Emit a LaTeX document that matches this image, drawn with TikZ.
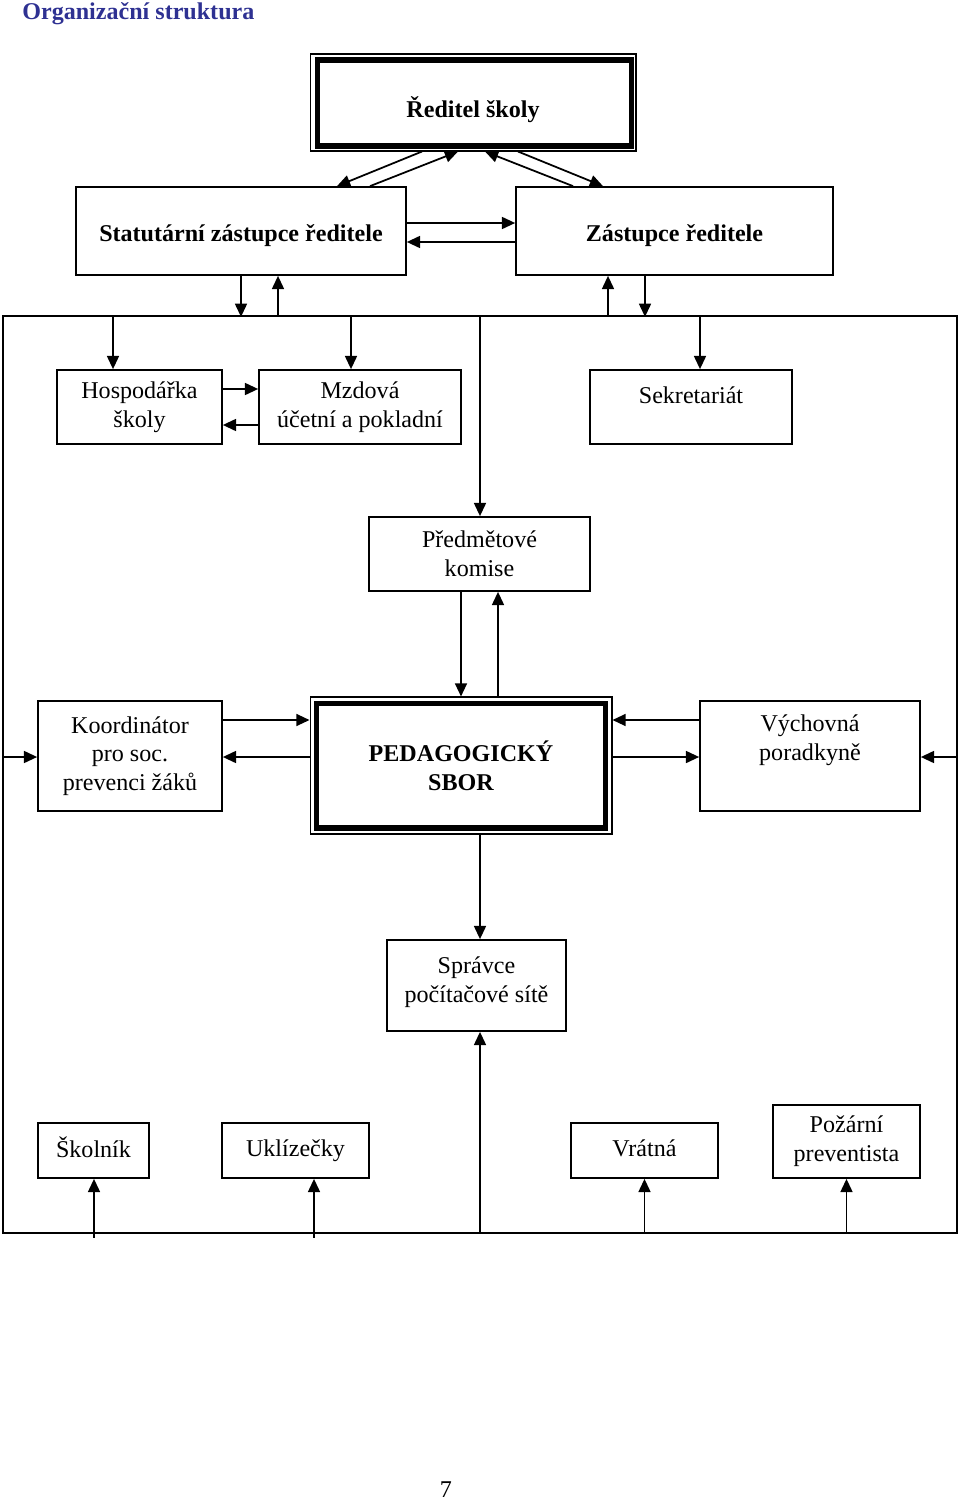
\documentclass[tikz,border=0pt]{standalone}
\usepackage{fontspec}
\setmainfont{Liberation Serif}
\usetikzlibrary{arrows.meta,calc}

\definecolor{nadpisbarva}{RGB}{46,49,146}

\begin{document}
\begin{tikzpicture}[x=0.02cm,y=-0.02cm,
      box/.style={rectangle,draw=black,line width=1pt,align=center,inner sep=0pt,
        font=\fontsize{13.7}{16.4}\selectfont},
      hlavni/.style={box,line width=0.6pt,font=\fontsize{13.7}{16.4}\selectfont\bfseries},
      sip/.style={-{Triangle[length=7.5pt,width=6.8pt]},line width=1pt}]
\useasboundingbox (0,0) rectangle (960,1501);
\node (nadpis) [anchor=base west,inner sep=0pt,text=nadpisbarva,
  font=\fontsize{13.7}{16.4}\selectfont\bfseries] at (22,19) {Organizační struktura};

\node (R) [hlavni,text height=1.96em,minimum width=6.52cm,minimum height=1.94cm] at (473,102.5) {Ředitel školy};
\draw[line width=3.4pt] ($(R.north west)+(8,7)$) rectangle ($(R.south east)+(-5,-5.5)$);
\node (S) [box,font=\fontsize{13.7}{16.4}\selectfont\bfseries,text height=1.53em,
  minimum width=6.6cm,minimum height=1.76cm] at (241,231) {Statutární zástupce ředitele};
\node (Z) [box,font=\fontsize{13.7}{16.4}\selectfont\bfseries,text height=1.53em,
  minimum width=6.34cm,minimum height=1.76cm] at (674.5,231) {Zástupce ředitele};

\draw[line width=1pt] (3,316) rectangle (957,1233);

\node (H) [box,minimum width=3.3cm,minimum height=1.48cm] at (139.5,407) {Hospodářka\\školy};
\node (M) [box,minimum width=4.04cm,minimum height=1.48cm] at (360,407) {Mzdová\\účetní a pokladní};
\node (Sek) [box,text height=0.75em,text depth=1.1em,
  minimum width=4.04cm,minimum height=1.48cm] at (691,407) {Sekretariát};
\node (P) [box,minimum width=4.42cm,minimum height=1.48cm] at (479.5,554) {Předmětové\\komise};

\node (PED) [hlavni,minimum width=6.04cm,minimum height=2.74cm] at (461,765.5) {PEDAGOGICKÝ\\SBOR};
\draw[line width=3.4pt] ($(PED.north west)+(7,7)$) rectangle ($(PED.south east)+(-7,-7)$);
\node (K) [box,minimum width=3.68cm,minimum height=2.2cm] at (130,756) {Koordinátor\\pro soc.\\prevenci žáků};
\node (V) [box,minimum width=4.4cm,minimum height=2.2cm] at (810,756) {Výchovná\\poradkyně\\\strut};

\node (Sp) [box,text depth=0.63em,minimum width=3.58cm,minimum height=1.82cm] at (476.5,985.5) {Správce\\počítačové sítě};

\node (Sk) [box,text depth=0.41em,minimum width=2.22cm,minimum height=1.1cm] at (93.5,1150.5) {Školník};
\node (U) [box,minimum width=2.94cm,minimum height=1.1cm] at (295.5,1150.5) {Uklízečky};
\node (Vr) [box,text depth=0.25em,minimum width=2.94cm,minimum height=1.1cm] at (644.5,1150.5) {Vrátná};
\node (Po) [box,minimum width=2.94cm,minimum height=1.46cm] at (846.5,1141.5) {Požární\\preventista};

\node (strana) [font=\fontsize{13.7}{16.4}\selectfont] at (446,1490) {7};

\draw[sip] ($(R.south)+(-51,0)$) -- ($(S.north)+(96,0)$);
\draw[sip] ($(S.north)+(129,0)$) -- ($(R.south)+(-15,0)$);
\draw[sip] ($(Z.north)+(-101.5,0)$) -- ($(R.south)+(12,0)$);
\draw[sip] ($(R.south)+(45,0)$) -- ($(Z.north)+(-71.5,0)$);
\draw[sip] ($(S.east)+(0,-8)$) -- ($(Z.west)+(0,-8)$);
\draw[sip] ($(Z.west)+(0,11)$) -- ($(S.east)+(0,11)$);
\draw[sip] (S.south) -- ($(S.south)+(0,41)$);
\draw[sip] ($(S.south)+(37,41)$) -- ($(S.south)+(37,0)$);
\draw[sip] ($(Z.south)+(-66.5,41)$) -- ($(Z.south)+(-66.5,0)$);
\draw[sip] ($(Z.south)+(-29.5,0)$) -- ($(Z.south)+(-29.5,41)$);

\draw[sip] ($(H.north)+(-26.5,-54)$) -- ($(H.north)+(-26.5,0)$);
\draw[sip] ($(M.north)+(-9,-54)$) -- ($(M.north)+(-9,0)$);
\draw[sip] ($(Sek.north)+(9,-54)$) -- ($(Sek.north)+(9,0)$);
\draw[sip] ($(H.east)+(0,-18)$) -- ($(M.west)+(0,-18)$);
\draw[sip] ($(M.west)+(0,18)$) -- ($(H.east)+(0,18)$);
\draw[sip] ($(P.north)+(0.5,-201)$) -- ($(P.north)+(0.5,0)$);

\draw[sip] ($(P.south)+(-18.5,0)$) -- (PED.north);
\draw[sip] ($(PED.north)+(37,0)$) -- ($(P.south)+(18.5,0)$);
\draw[sip] ($(K.east)+(0,-36)$) -- ($(PED.west)+(0,-45.5)$);
\draw[sip] ($(PED.west)+(0,-8.5)$) -- ($(K.east)+(0,1)$);
\draw[sip] ($(K.west)+(-35,1)$) -- ($(K.west)+(0,1)$);
\draw[sip] ($(V.west)+(0,-36)$) -- ($(PED.east)+(0,-45.5)$);
\draw[sip] ($(PED.east)+(0,-8.5)$) -- ($(V.west)+(0,1)$);
\draw[sip] ($(V.east)+(37,1)$) -- ($(V.east)+(0,1)$);

\draw[sip] ($(PED.south)+(19,0)$) -- ($(Sp.north)+(3.5,0)$);
\draw[sip] ($(Sp.south)+(3.5,202)$) -- ($(Sp.south)+(3.5,0)$);
\draw[sip] ($(Sk.south)+(0.5,59)$) -- ($(Sk.south)+(0.5,0)$);
\draw[sip] ($(U.south)+(18.5,59)$) -- ($(U.south)+(18.5,0)$);
\draw[sip] ($(Vr.south)+(0,55)$) -- (Vr.south);
\draw[sip] ($(Po.south)+(0,55)$) -- (Po.south);
\end{tikzpicture}
\end{document}
